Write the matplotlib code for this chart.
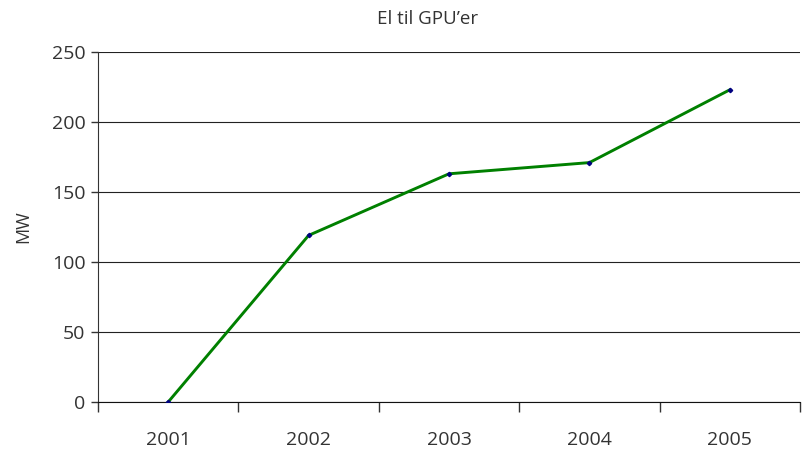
import matplotlib
matplotlib.use("Agg")
import matplotlib.pyplot as plt
import numpy as np

# Data
years = ["2001", "2002", "2003", "2004", "2005"]
mw = [0, 119, 163, 171, 223]
y_ticks = [0, 50, 100, 150, 200, 250]

plt.rcParams['font.family'] = ['Open Sans', 'DejaVu Sans']

fig = plt.figure(figsize=(8.05, 4.5), dpi=100)
ax = fig.add_axes([98 / 805, 1 - 402 / 450, 702 / 805, 350 / 450])

x = np.arange(len(years))
ax.plot(x, mw, color='#008000', linewidth=2.1, marker='D', markersize=2.2,
        markerfacecolor='#000080', markeredgecolor='#000080', zorder=3)

ax.set_xlim(-0.5, len(years) - 0.5)
ax.set_ylim(0, 250)
ax.set_yticks(y_ticks)
ax.set_yticklabels([str(v) for v in y_ticks], fontsize=14, color='#333333')
ax.set_xticks(x)
ax.set_xticklabels(years, fontsize=14, color='#333333')
ax.tick_params(axis='x', which='major', length=0, pad=21)
ax.set_xticks(np.arange(-0.5, len(years)), minor=True)
ax.tick_params(axis='x', which='minor', length=7, width=1, color='#333333')
ax.tick_params(axis='y', length=5, width=1, color='#333333', pad=4)

ax.grid(axis='y', color='#222222', linewidth=0.8)
ax.set_axisbelow(True)
for side in ['top', 'right']:
    ax.spines[side].set_visible(False)
ax.spines['left'].set_color('#333333')
ax.spines['bottom'].set_color('#111111')

ax.set_ylabel("MW", fontsize=13, color='#333333', labelpad=14)
fig.text(428 / 805, 1 - 19 / 450, "El til GPU\u2019er", ha='center', va='center',
         fontsize=13.5, color='#333333')

fig.savefig("out.png", dpi=100)
